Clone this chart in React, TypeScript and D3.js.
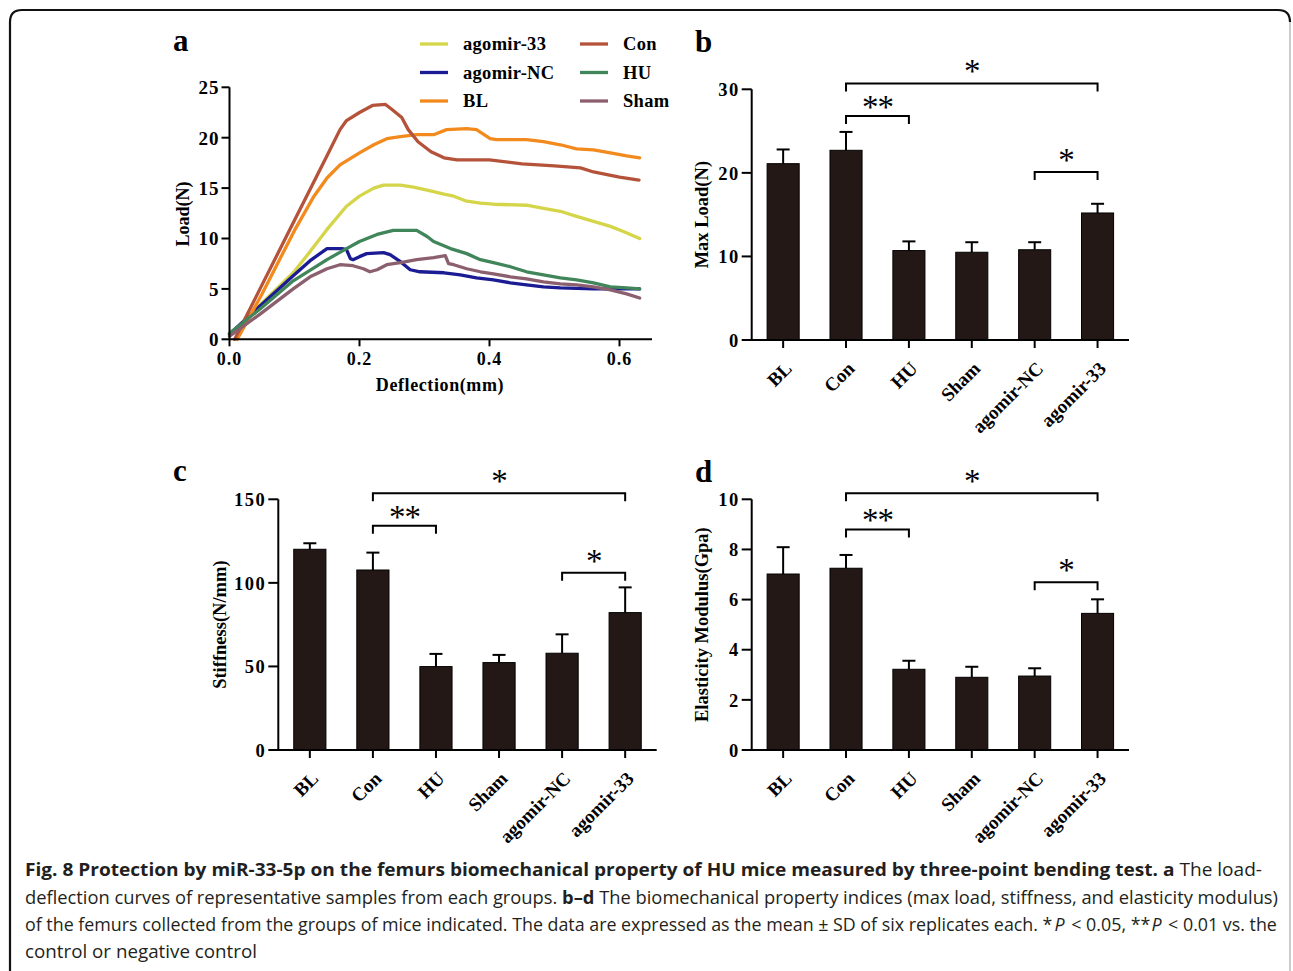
import { useEffect, useRef } from 'react';
import * as d3 from 'd3';

// 群名
const groups = ['BL', 'Con', 'HU', 'Sham', 'agomir-NC', 'agomir-33'];

// 曲線 (deflection mm, load N)
const curveAgomir33: [number, number][] = [[0, 0.4], [0.047, 3.4], [0.098, 6.6], [0.124, 8.7], [0.15, 10.9], [0.18, 13.2], [0.2, 14.2], [0.222, 15.0], [0.237, 15.3], [0.263, 15.3], [0.283, 15.1], [0.304, 14.8], [0.33, 14.4], [0.345, 14.2], [0.365, 13.7], [0.386, 13.5], [0.406, 13.4], [0.457, 13.3], [0.483, 13.0], [0.509, 12.7], [0.534, 12.2], [0.56, 11.7], [0.586, 11.2], [0.606, 10.7], [0.631, 10.0]];
const curveAgomirNC: [number, number][] = [[0, 0.5], [0.047, 3.3], [0.098, 6.3], [0.124, 7.8], [0.15, 9.0], [0.173, 9.0], [0.18, 8.9], [0.186, 8.0], [0.19, 7.9], [0.2, 8.2], [0.211, 8.5], [0.237, 8.6], [0.247, 8.4], [0.263, 7.7], [0.278, 6.9], [0.293, 6.7], [0.33, 6.6], [0.355, 6.4], [0.38, 6.1], [0.406, 5.9], [0.432, 5.6], [0.457, 5.4], [0.483, 5.2], [0.509, 5.1], [0.56, 5.0], [0.631, 5.0]];
const curveBL: [number, number][] = [[0.012, 0], [0.05, 4.5], [0.1, 10.8], [0.13, 14.2], [0.15, 16.0], [0.17, 17.3], [0.2, 18.5], [0.222, 19.3], [0.242, 19.9], [0.263, 20.1], [0.288, 20.3], [0.314, 20.3], [0.334, 20.8], [0.365, 20.9], [0.38, 20.8], [0.401, 19.9], [0.411, 19.8], [0.457, 19.8], [0.483, 19.6], [0.509, 19.3], [0.534, 18.9], [0.56, 18.8], [0.586, 18.5], [0.611, 18.2], [0.631, 18.0]];
const curveCon: [number, number][] = [[0.008, 0], [0.05, 5.4], [0.1, 11.8], [0.15, 18.2], [0.17, 20.8], [0.18, 21.7], [0.2, 22.5], [0.22, 23.2], [0.24, 23.3], [0.25, 22.8], [0.265, 22.0], [0.275, 20.8], [0.29, 19.6], [0.31, 18.6], [0.33, 18.0], [0.35, 17.8], [0.4, 17.8], [0.45, 17.4], [0.5, 17.2], [0.54, 17.0], [0.56, 16.6], [0.6, 16.1], [0.63, 15.8]];
const curveHU: [number, number][] = [[0, 0.6], [0.047, 3.0], [0.098, 5.8], [0.15, 7.9], [0.18, 9.0], [0.2, 9.7], [0.227, 10.4], [0.252, 10.8], [0.288, 10.8], [0.304, 10.2], [0.314, 9.7], [0.34, 9.0], [0.365, 8.5], [0.386, 7.9], [0.406, 7.6], [0.432, 7.2], [0.457, 6.7], [0.483, 6.4], [0.509, 6.1], [0.534, 5.9], [0.56, 5.6], [0.586, 5.2], [0.611, 5.1], [0.631, 5.0]];
const curveSham: [number, number][] = [[0, 0.3], [0.047, 2.5], [0.098, 5.0], [0.124, 6.2], [0.15, 7.0], [0.17, 7.4], [0.19, 7.3], [0.206, 7.0], [0.216, 6.7], [0.227, 6.9], [0.242, 7.4], [0.263, 7.6], [0.288, 7.9], [0.314, 8.1], [0.332, 8.3], [0.337, 7.5], [0.345, 7.4], [0.365, 7.0], [0.386, 6.7], [0.406, 6.5], [0.432, 6.2], [0.457, 6.0], [0.483, 5.7], [0.509, 5.5], [0.534, 5.4], [0.56, 5.2], [0.586, 4.9], [0.611, 4.5], [0.631, 4.1]];

// 凡例の順番
const legendNames = ['agomir-33', 'agomir-NC', 'BL', 'Con', 'HU', 'Sham'];
const legendColors = ['#d5d54a', '#1b1b94', '#f28a1e', '#b4523a', '#41855a', '#8b5f6e'];
const curves = [curveAgomir33, curveAgomirNC, curveBL, curveCon, curveHU, curveSham];

const deflectionTicks = [0, 0.2, 0.4, 0.6];
const loadTicks = [0, 5, 10, 15, 20, 25];

// 棒グラフ (mean, SD)
const maxLoad = [21.1, 22.7, 10.7, 10.5, 10.8, 15.2];
const maxLoadSD = [1.7, 2.2, 1.1, 1.2, 0.9, 1.1];
const stiffness = [120.1, 107.7, 49.9, 52.3, 57.9, 82.2];
const stiffnessSD = [3.6, 10.4, 7.6, 4.6, 11.3, 15.1];
const elasticity = [7.02, 7.25, 3.22, 2.9, 2.95, 5.45];
const elasticitySD = [1.07, 0.53, 0.34, 0.42, 0.31, 0.56];

// 有意差 (from, to, label, level in data units)
const sigMaxLoad = [['Con', 'HU', '**', 26.8], ['Con', 'agomir-33', '*', 30.7], ['agomir-NC', 'agomir-33', '*', 20.1]];
const sigStiffness = [['Con', 'HU', '**', 134.2], ['Con', 'agomir-33', '*', 153.6], ['agomir-NC', 'agomir-33', '*', 106.1]];
const sigElasticity = [['Con', 'HU', '**', 8.8], ['Con', 'agomir-33', '*', 10.24], ['agomir-NC', 'agomir-33', '*', 6.69]];

const serif = '"Liberation Serif", "Times New Roman", serif';
const barColor = '#231815';

export default function App() {
    const svgRef = useRef<SVGSVGElement>(null);

    useEffect(() => {
        const svg = d3.select(svgRef.current).html('');

        // 外枠
        svg.append('path')
            .attr('d', 'M10,975 L10,22 Q10,10 22,10 L1278,10 Q1290,10 1290,22')
            .attr('fill', 'none').attr('stroke', '#111').attr('stroke-width', 2.2);
        svg.append('line')
            .attr('x1', 1290).attr('x2', 1290).attr('y1', 22).attr('y2', 975)
            .attr('stroke', '#bbb').attr('stroke-width', 1.5);

        const panelLabel = (t: string, x: number, y: number) =>
            svg.append('text').attr('x', x).attr('y', y)
                .attr('font-family', serif).attr('font-weight', 'bold').attr('font-size', 31)
                .text(t);

        // ---- a: 荷重-たわみ曲線 ----
        const x = d3.scaleLinear().domain([0, 0.65]).range([229.5, 652]);
        const y = d3.scaleLinear().domain([0, 25]).range([339.3, 87.3]);
        const ga = svg.append('g');

        const line = d3.line<[number, number]>().x(d => x(d[0])).y(d => y(d[1]));
        curves.forEach((c, i) => {
            ga.append('path').attr('d', line(c)!)
                .attr('fill', 'none').attr('stroke', legendColors[i])
                .attr('stroke-width', 3.3).attr('stroke-linejoin', 'round').attr('stroke-linecap', 'round');
        });

        ga.append('line').attr('x1', x(0)).attr('x2', x(0)).attr('y1', y(0)).attr('y2', y(25))
            .attr('stroke', '#000').attr('stroke-width', 2);
        ga.append('line').attr('x1', x(0) - 1).attr('x2', x(0.65)).attr('y1', y(0)).attr('y2', y(0))
            .attr('stroke', '#000').attr('stroke-width', 2);
        loadTicks.forEach(t => {
            ga.append('line').attr('x1', x(0) - 8).attr('x2', x(0)).attr('y1', y(t)).attr('y2', y(t))
                .attr('stroke', '#000').attr('stroke-width', 2);
            ga.append('text').attr('x', x(0) - 10).attr('y', y(t)).attr('dy', '0.36em')
                .attr('text-anchor', 'end').attr('font-family', serif).attr('font-weight', 'bold')
                .attr('font-size', 19).attr('letter-spacing', 1).text(t);
        });
        deflectionTicks.forEach(t => {
            ga.append('line').attr('x1', x(t)).attr('x2', x(t)).attr('y1', y(0)).attr('y2', y(0) + 7)
                .attr('stroke', '#000').attr('stroke-width', 2);
            ga.append('text').attr('x', x(t)).attr('y', y(0) + 26)
                .attr('text-anchor', 'middle').attr('font-family', serif).attr('font-weight', 'bold')
                .attr('font-size', 18).attr('letter-spacing', 1).text(t.toFixed(1));
        });
        ga.append('text').attr('transform', `translate(189,214) rotate(-90)`)
            .attr('text-anchor', 'middle').attr('font-family', serif).attr('font-weight', 'bold')
            .attr('font-size', 18).text('Load(N)');
        ga.append('text').attr('x', 440).attr('y', 391)
            .attr('text-anchor', 'middle').attr('font-family', serif).attr('font-weight', 'bold')
            .attr('font-size', 18).attr('letter-spacing', 0.6).text('Deflection(mm)');

        // 凡例
        legendNames.forEach((n, i) => {
            const col = Math.floor(i / 3);
            const row = i % 3;
            const lx = col === 0 ? 420 : 580;
            const ly = 44 + row * 28.5;
            ga.append('line').attr('x1', lx).attr('x2', lx + 28).attr('y1', ly).attr('y2', ly)
                .attr('stroke', legendColors[i]).attr('stroke-width', 3.3);
            ga.append('text').attr('x', lx + 43).attr('y', ly).attr('dy', '0.34em')
                .attr('font-family', serif).attr('font-weight', 'bold').attr('font-size', 18.5)
                .attr('letter-spacing', 0.3).text(n);
        });
        panelLabel('a', 173, 51);

        // ---- b, c, d: 棒グラフ ----
        const drawBars = (
            left: number, right: number, bottom: number, top: number, max: number, step: number,
            values: number[], sds: number[], sigs: (string | number)[][], title: string, titleX: number
        ) => {
            const g = svg.append('g');
            const xb = d3.scaleBand<string>().domain(groups).range([left, right])
                .paddingInner(0.49).paddingOuter(0.245);
            const yb = d3.scaleLinear().domain([0, max]).range([bottom, top]);
            const cx = (k: string) => xb(k)! + xb.bandwidth() / 2;

            g.selectAll('rect.bar').data(values).enter().append('rect')
                .attr('x', (d, i) => xb(groups[i])!)
                .attr('y', d => yb(d))
                .attr('width', xb.bandwidth())
                .attr('height', d => yb(0) - yb(d))
                .attr('fill', barColor).attr('stroke', '#000').attr('stroke-width', 1);

            // エラーバー（上側のみ）
            values.forEach((v, i) => {
                const c = cx(groups[i]);
                g.append('line').attr('x1', c).attr('x2', c).attr('y1', yb(v)).attr('y2', yb(v + sds[i]))
                    .attr('stroke', '#000').attr('stroke-width', 2);
                g.append('line').attr('x1', c - 6.5).attr('x2', c + 6.5)
                    .attr('y1', yb(v + sds[i])).attr('y2', yb(v + sds[i]))
                    .attr('stroke', '#000').attr('stroke-width', 2);
            });

            // 軸
            g.append('line').attr('x1', left).attr('x2', left).attr('y1', yb(0)).attr('y2', yb(max))
                .attr('stroke', '#000').attr('stroke-width', 2);
            g.append('line').attr('x1', left - 9).attr('x2', right).attr('y1', yb(0)).attr('y2', yb(0))
                .attr('stroke', '#000').attr('stroke-width', 2);
            d3.range(0, max + step / 2, step).forEach(t => {
                g.append('line').attr('x1', left - 10).attr('x2', left).attr('y1', yb(t)).attr('y2', yb(t))
                    .attr('stroke', '#000').attr('stroke-width', 2);
                g.append('text').attr('x', left - 12).attr('y', yb(t)).attr('dy', '0.36em')
                    .attr('text-anchor', 'end').attr('font-family', serif).attr('font-weight', 'bold')
                    .attr('font-size', 18.5).attr('letter-spacing', 1.5).text(t);
            });
            groups.forEach(k => {
                const c = cx(k);
                g.append('line').attr('x1', c).attr('x2', c).attr('y1', yb(0)).attr('y2', yb(0) + 8)
                    .attr('stroke', '#000').attr('stroke-width', 2);
                g.append('text').attr('transform', `translate(${c + 5},${yb(0) + 25}) rotate(-45)`)
                    .attr('text-anchor', 'end').attr('dy', '0.35em')
                    .attr('font-family', serif).attr('font-weight', 'bold').attr('font-size', 19)
                    .text(k);
            });
            g.append('text').attr('transform', `translate(${titleX},${(yb(0) + yb(max)) / 2}) rotate(-90)`)
                .attr('text-anchor', 'middle').attr('dy', '0.35em')
                .attr('font-family', serif).attr('font-weight', 'bold').attr('font-size', 18.5)
                .text(title);

            // 有意差ブラケット
            sigs.forEach(([a, b, lab, lev]) => {
                const x1 = cx(a as string);
                const x2 = cx(b as string);
                const yy = yb(lev as number);
                g.append('path').attr('d', `M${x1},${yy + 8}V${yy}H${x2}V${yy + 8}`)
                    .attr('fill', 'none').attr('stroke', '#000').attr('stroke-width', 2);
                g.append('text').attr('x', (x1 + x2) / 2).attr('y', yy + (lab === '*' ? -1 : 2))
                    .attr('text-anchor', 'middle').attr('font-family', serif).attr('font-size', 33)
                    .attr('letter-spacing', -1).text(lab as string);
            });
        };

        drawBars(751.7, 1129, 340, 89.3, 30, 10, maxLoad, maxLoadSD, sigMaxLoad, 'Max Load(N)', 702);
        panelLabel('b', 695, 52);
        drawBars(278.3, 656.7, 750, 499.3, 150, 50, stiffness, stiffnessSD, sigStiffness, 'Stiffness(N/mm)', 220);
        panelLabel('c', 173, 481);
        drawBars(751.7, 1129, 750, 499.3, 10, 2, elasticity, elasticitySD, sigElasticity, 'Elasticity Modulus(Gpa)', 702);
        panelLabel('d', 695, 482);

        // ---- キャプション ----
        const sans = '"Open Sans", "Noto Sans", sans-serif';
        const cap = svg.append('g').attr('font-family', sans).attr('font-size', 18).attr('fill', '#231f20');
        const l1 = cap.append('text').attr('x', 25).attr('y', 876)
            .attr('textLength', 1237).attr('lengthAdjust', 'spacingAndGlyphs');
        l1.append('tspan').attr('font-weight', 'bold')
            .text('Fig. 8 Protection by miR-33-5p on the femurs biomechanical property of HU mice measured by three-point bending test. a');
        l1.append('tspan').text(' The load-');
        const l2 = cap.append('text').attr('x', 25).attr('y', 904)
            .attr('textLength', 1253).attr('lengthAdjust', 'spacingAndGlyphs');
        l2.append('tspan').text('deflection curves of representative samples from each groups. ');
        l2.append('tspan').attr('font-weight', 'bold').text('b–d');
        l2.append('tspan').text(' The biomechanical property indices (max load, stiffness, and elasticity modulus)');

        // 3行目: 区切ったテキストを順に並べ、全体を横方向に縮めて幅を合わせる
        const l3parts: [string, boolean][] = [
            ['of the femurs collected from the groups of mice indicated. The data are expressed as the mean ± SD of six replicates each. *', false],
            ['P', true],
            ['\u00a0< 0.05, **', false],
            ['P', true],
            ['\u00a0< 0.01 vs. the', false],
        ];
        const l3 = cap.append('g');
        let cursor = 0;
        l3parts.forEach(([t, it]) => {
            const node = l3.append('text').attr('x', cursor).attr('y', 0)
                .attr('font-style', it ? 'italic' : 'normal').text(t);
            const w = (node.node() as SVGTextElement).getComputedTextLength();
            cursor += w + (it ? 2 : 1);
        });
        const sx = 1253 / cursor;
        l3.attr('transform', `translate(25,931) scale(${sx},1)`);

        cap.append('text').attr('x', 25).attr('y', 958)
            .attr('textLength', 232).attr('lengthAdjust', 'spacingAndGlyphs')
            .text('control or negative control');
    }, []);

    return (
        <div style={{ position: 'absolute', left: 0, top: 0, background: '#fff' }}>
            <svg ref={svgRef} width={1293} height={971}></svg>
        </div>
    );
}
